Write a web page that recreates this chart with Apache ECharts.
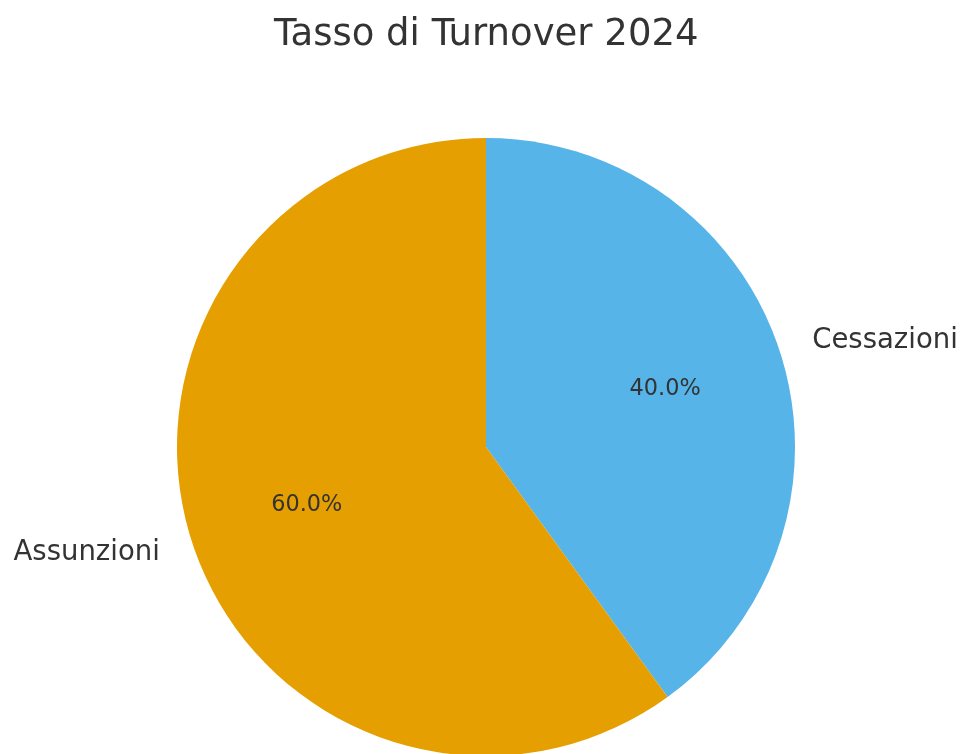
<!DOCTYPE html>
<html>
<head>
<meta charset="utf-8">
<title>Tasso di Turnover 2024</title>
<script src="https://cdn.jsdelivr.net/npm/echarts@6/dist/echarts.min.js"></script>
<style>
  html, body { margin: 0; padding: 0; background: #fff; }
  #chart { width: 961px; height: 754px; }
</style>
</head>
<body>
<div id="chart"></div>
<script>
// data
const categories = ['Cessazioni', 'Assunzioni']
const values = [40, 60]
const colors = ['#56B4E9', '#E69F00']

const fontFamily = 'DejaVu Sans'
const textColor = '#333333'
const center = [486, 447]
const radius = 309

const pieData = categories.map((name, i) => ({
  name: name,
  value: values[i],
  itemStyle: { color: colors[i] }
}))

const chart = echarts.init(document.getElementById('chart'))
chart.setOption({
  animation: false,
  title: {
    text: 'Tasso di Turnover 2024',
    left: 269,
    top: 12,
    textStyle: {
      fontFamily: fontFamily,
      fontSize: 37,
      fontWeight: 'normal',
      color: textColor
    }
  },
  series: [
    {
      // the pie itself, with category names outside
      type: 'pie',
      center: center,
      radius: radius,
      startAngle: 90,
      clockwise: true,
      avoidLabelOverlap: false,
      emphasis: { disabled: true },
      data: pieData,
      label: {
        show: true,
        position: 'outside',
        formatter: '{b}',
        fontFamily: fontFamily,
        fontSize: 27.5,
        color: textColor,
        distanceToLabelLine: 0
      },
      labelLine: { show: false, length: 34, length2: 0 }
    },
    {
      // transparent helper ring: puts the percentages at 0.6 r
      type: 'pie',
      center: center,
      radius: radius * 1.2,
      startAngle: 90,
      clockwise: true,
      silent: true,
      emphasis: { disabled: true },
      data: categories.map((name, i) => ({ name: name, value: values[i] })),
      itemStyle: { color: 'rgba(0,0,0,0)' },
      label: {
        show: true,
        position: 'inside',
        formatter: p => p.percent.toFixed(1) + '%',
        fontFamily: fontFamily,
        fontSize: 22.4,
        color: textColor
      },
      labelLine: { show: false }
    }
  ]
})
</script>
</body>
</html>
